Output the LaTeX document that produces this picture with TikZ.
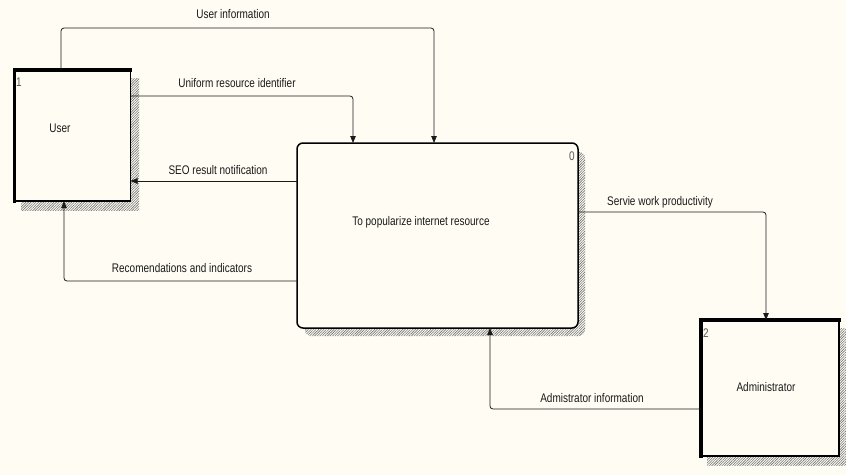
\documentclass[tikz,border=0pt]{standalone}
\usepackage{fontspec}
\setmainfont[FakeStretch=0.8]{Liberation Sans}
\usetikzlibrary{arrows.meta,patterns.meta}
\definecolor{bg}{HTML}{FEFCF3}
\definecolor{ink}{HTML}{1A1A1A}
\begin{document}
\begin{tikzpicture}[x=1pt,y=-1pt,
  txt/.style={font=\fontsize{12.5}{14}\selectfont, text=ink, inner sep=0pt},
  num/.style={font=\fontsize{12.5}{14}\selectfont, text=black!65, inner sep=0pt},
  boxbase/.style={draw=black, fill=bg, line width=1.5pt, inner sep=0pt, outer sep=0pt},
  extbox/.style={boxbase, rectangle},
  procbox/.style={boxbase, rectangle, rounded corners=6pt},
  shadowfill/.style={pattern={Lines[angle=45,distance=1.8pt,line width=0.6pt]}, pattern color=black!55},
  flow/.style={draw=ink, line width=0.8pt, rounded corners=3pt, -{Triangle[length=7pt,width=5.5pt]}},
  thickedge/.style={line width=3.6pt, line join=miter, line cap=rect}
]
\fill[bg] (0,0) rectangle (846,475);
\useasboundingbox (0,0) rectangle (846,475);
\clip (0,0) rectangle (846,475);

% shadows
\fill[shadowfill] (21,78) rectangle (139,210);
\fill[shadowfill, rounded corners=6pt] (305,152) rectangle (585,336);
\fill[shadowfill] (707,328) rectangle (850,465);

% boxes
\node[extbox, minimum width=116pt, minimum height=131pt] (user) at (72.5,135.5) {};
\node[procbox, minimum width=281pt, minimum height=185pt] (proc) at (437.5,235.5) {};
\node[extbox, minimum width=138pt, minimum height=136pt] (admin) at (770,388) {};
\draw[thickedge] (user.south west) -- (user.north west) -- (user.north east);
\draw[thickedge] (admin.south west) -- (admin.north west) -- (admin.north east);

% box texts
\node[txt] (userlbl) at (60,128) {User};
\node[txt] (proclbl) at (421,222) {To popularize internet resource};
\node[txt] (adminlbl) at (766,387) {Administrator};
\node[num] (usernum) at (19,82) {1};
\node[num] (procnum) at (572,156) {0};
\node[num] (adminnum) at (706,333) {2};

% bend coordinates
\coordinate (b1) at (61,28);
\coordinate (b2) at (434,28);
\coordinate (b3) at (353,96);
\coordinate (b4) at (64,281);
\coordinate (b5) at (766,212);
\coordinate (b6) at (490,409);
\coordinate (s3) at (0,181);

% connectors
\draw[flow] (user.north -| b1) -- (b1) -- (b2) -- (proc.north -| b2);
\draw[flow] (user.east |- b3) -- (b3) -- (proc.north -| b3);
\draw[flow] (proc.west |- s3) -- (user.east |- s3);
\draw[flow] (proc.west |- b4) -- (b4) -- (user.south -| b4);
\draw[flow] (proc.east |- b5) -- (b5) -- (admin.north -| b5);
\draw[flow] (admin.west |- b6) -- (b6) -- (proc.south -| b6);

% connector labels
\node[txt] (l1) at (233,14) {User information};
\node[txt] (l2) at (237,83) {Uniform resource identifier};
\node[txt] (l3) at (218,170) {SEO result notification};
\node[txt] (l4) at (182,268) {Recomendations and indicators};
\node[txt] (l5) at (660,202) {Servie work productivity};
\node[txt] (l6) at (592,398) {Admistrator information};
\end{tikzpicture}
\end{document}
